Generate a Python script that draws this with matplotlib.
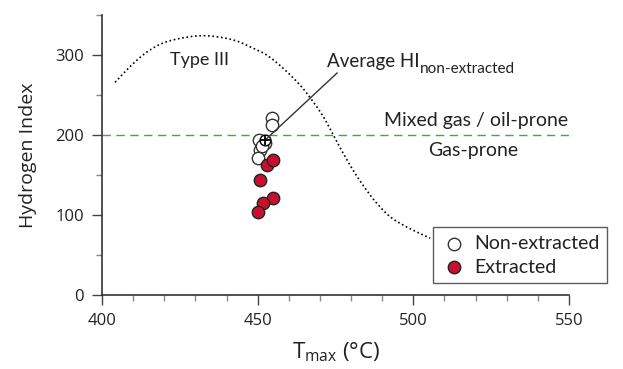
import matplotlib
matplotlib.use("Agg")
import matplotlib.pyplot as plt
import numpy as np
from matplotlib.ticker import MultipleLocator

# Data
non_x = [454.7, 454.7, 450.4, 450.8, 450.1, 452.5, 451.5]
non_y = [221, 213, 194, 181, 171, 190, 186]
ext_x = [452.9, 455.0, 450.8, 455.0, 451.8, 450.2]
ext_y = [162.5, 169, 144, 121, 115, 104]
avg_x, avg_y = 452.5, 194

type3_x = [404.2, 410.1, 415.4, 420.8, 428.3, 434.7, 442.2, 447.5, 452.9, 458.2, 463.6,
           467.4, 471.1, 474.3, 477.5, 481.3, 485.0, 488.2, 492.5, 497.9, 505.4]
type3_y = [265.9, 289.6, 306.3, 316.6, 322.9, 323.8, 318.8, 310.4, 300.0, 283.4, 262.5,
           243.8, 222.9, 200.0, 177.0, 152.0, 131.0, 115.0, 98.0, 85.0, 71.0]

boundary_hi = 200

fig = plt.figure(figsize=(6.23, 3.69), dpi=100)
ax = fig.add_axes([0.1637, 0.2005, 0.7496, 0.7588])

tick_font = "Open Sans"
ann_font = "Lato"
txt_color = "#222222"

def catmull(p, n=12):
    out = []
    pts = np.vstack([2 * p[0] - p[1], p, 2 * p[-1] - p[-2]])
    for i in range(1, len(pts) - 2):
        p0, p1, p2, p3 = pts[i-1], pts[i], pts[i+1], pts[i+2]
        for s in np.linspace(0, 1, n, endpoint=False):
            out.append(0.5 * ((2*p1) + (-p0 + p2)*s + (2*p0 - 5*p1 + 4*p2 - p3)*s**2
                              + (-p0 + 3*p1 - 3*p2 + p3)*s**3))
    out.append(pts[-2])
    return np.array(out)

curve = catmull(np.column_stack([type3_x, type3_y]))
ax.plot(curve[:, 0], curve[:, 1], color="black", linestyle=(0, (1, 1.6)), linewidth=1.2, zorder=2)

# Boundary line
ax.axhline(boundary_hi, color="#5a9e3a", linestyle=(0, (6, 4)), linewidth=1.0, zorder=1)

# Points
ax.scatter(non_x, non_y, s=80, facecolor="white", edgecolor="#333333", linewidth=1.0, zorder=3,
           label="Non-extracted")
ax.scatter(ext_x, ext_y, s=80, facecolor="#c8102e", edgecolor="#222222", linewidth=1.0, zorder=4,
           label="Extracted")
ax.scatter([avg_x], [avg_y], s=60, facecolor="white", edgecolor="black", linewidth=1.0, marker="o", zorder=5)
ax.scatter([avg_x], [avg_y], s=60, color="black", linewidth=1.3, marker="+", zorder=6)

# Annotation
ax.plot([avg_x, 475.5], [avg_y, 277.5], color="#333333", linewidth=1.0, zorder=5)
ax.text(472.3, 285, "Average HI", fontsize=13.5, family=ann_font, va="baseline", ha="left", color=txt_color)
ax.text(502.2, 277.5, "non-extracted", fontsize=11, family=ann_font, va="baseline", ha="left", color=txt_color)
ax.text(431.2, 288, "Type III", fontsize=13, family=ann_font, ha="center", va="baseline", color=txt_color)
ax.text(520.3, 211.6, "Mixed gas / oil-prone", fontsize=14, family=ann_font, ha="center", va="baseline",
        color=txt_color)
ax.text(519.3, 174, "Gas-prone", fontsize=14, family=ann_font, ha="center", va="baseline", color=txt_color)

ax.set_xlim(400, 550)
ax.set_ylim(0, 350)
ax.xaxis.set_major_locator(MultipleLocator(50))
ax.xaxis.set_minor_locator(MultipleLocator(10))
ax.yaxis.set_major_locator(MultipleLocator(100))
ax.yaxis.set_minor_locator(MultipleLocator(50))
ax.spines["top"].set_visible(False)
ax.spines["right"].set_visible(False)
for s in ["left", "bottom"]:
    ax.spines[s].set_linewidth(1.2)
    ax.spines[s].set_color("#333333")
ax.tick_params(which="major", length=7, width=1.0, color="#444444", labelsize=12, pad=6)
ax.tick_params(which="minor", length=4, width=1.0, color="#888888")
for lab in ax.get_xticklabels() + ax.get_yticklabels():
    lab.set_family(tick_font)
    lab.set_color(txt_color)

ax.set_xlabel(r"T$_{\mathregular{max}}$ (°C)", fontsize=16, family=tick_font, color=txt_color, labelpad=8)
ax.set_ylabel("Hydrogen Index", fontsize=14, family=tick_font, color=txt_color, labelpad=13)

leg = ax.legend(loc="upper left", bbox_to_anchor=(0.709, 0.243), frameon=True, fancybox=False,
                prop={"family": ann_font, "size": 14}, handletextpad=0.4, borderpad=0.4,
                labelspacing=0.35, handlelength=1.3, borderaxespad=0)
leg.get_frame().set_edgecolor("#333333")
leg.get_frame().set_linewidth(1.0)
for txt in leg.get_texts():
    txt.set_color(txt_color)

fig.savefig("out.png", dpi=100)
